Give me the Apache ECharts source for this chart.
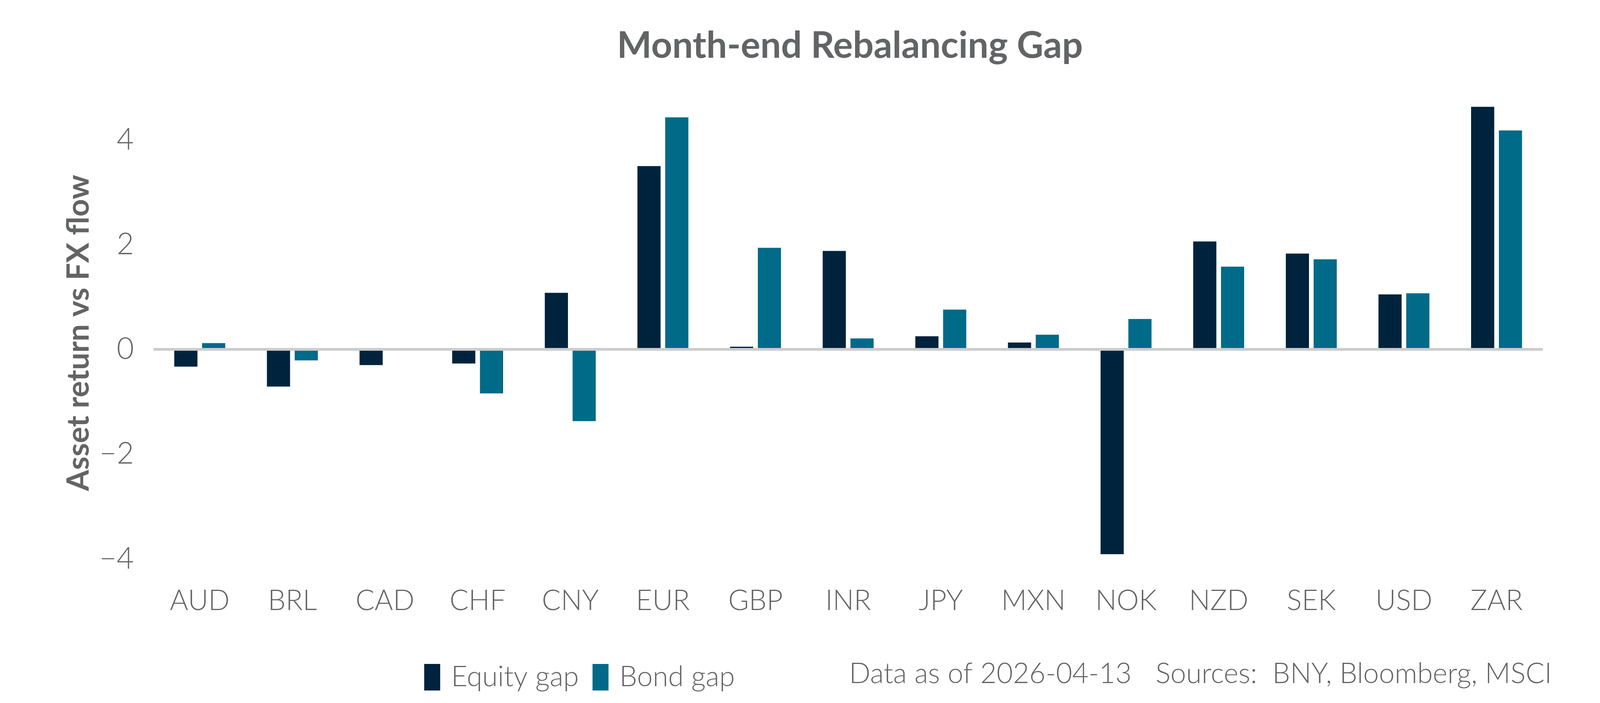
<!DOCTYPE html>
<html>
<head>
<meta charset="utf-8">
<script src="https://cdn.jsdelivr.net/npm/echarts@6/dist/echarts.min.js"></script>
<style>
  html, body { margin: 0; padding: 0; background: #fff; overflow: hidden; }
  #main { width: 100vw; height: 100vh; }
</style>
</head>
<body>
<div id="main"></div>
<script>
var currencies = ['AUD', 'BRL', 'CAD', 'CHF', 'CNY', 'EUR', 'GBP', 'INR', 'JPY', 'MXN', 'NOK', 'NZD', 'SEK', 'USD', 'ZAR'];
var equityGap = [-0.33, -0.71, -0.30, -0.27, 1.08, 3.50, 0.05, 1.88, 0.25, 0.13, -3.91, 2.06, 1.83, 1.05, 4.63];
var bondGap = [0.12, -0.21, null, -0.84, -1.37, 4.43, 1.94, 0.21, 0.76, 0.28, 0.58, 1.58, 1.72, 1.07, 4.18];
var seriesNames = ['Equity gap', 'Bond gap'];

var textGray = '#636466';
var labelFont = 'Lato';

// layout was measured on a 5400 x 1800 picture; scale it to the real window
var sx = window.innerWidth / 5400;
var sy = window.innerHeight / 1800;

var myChart = echarts.init(document.getElementById('main'));

var legendBase = {
    icon: 'rect',
    top: 1693 * sy,
    itemWidth: 54 * sx,
    itemHeight: 68 * sy,
    textStyle: {
        fontFamily: labelFont,
        fontWeight: 300,
        fontSize: 72,
        color: textGray,
        padding: [0, 0, 0, 37 * sx - 5]
    }
};

myChart.setOption({
    animation: false,
    backgroundColor: '#ffffff',
    title: {
        text: 'Month-end Rebalancing Gap',
        left: '53%',
        textAlign: 'center',
        top: 66 * sy,
        textStyle: {
            fontFamily: labelFont,
            fontSize: 94,
            fontWeight: 'bold',
            color: textGray
        }
    },
    grid: {
        left: '9.59%',
        right: '3.57%',
        top: 224 * sy,
        bottom: 369 * sy
    },
    legend: [
        Object.assign({ data: [seriesNames[0]], left: '26.39%' }, legendBase),
        Object.assign({ data: [seriesNames[1]], left: '36.91%' }, legendBase)
    ],
    graphic: [
        {
            type: 'text',
            left: '53.07%',
            top: 1690 * sy,
            style: {
                text: 'Data as of 2026-04-13',
                font: '300 72px Lato',
                fill: textGray
            }
        },
        {
            type: 'text',
            left: '72.22%',
            top: 1690 * sy,
            style: {
                text: 'Sources:  BNY, Bloomberg, MSCI',
                font: '300 72px Lato',
                fill: textGray
            }
        }
    ],
    xAxis: {
        type: 'category',
        data: currencies,
        axisLine: { show: false, onZero: false },
        axisTick: { show: false },
        axisLabel: {
            margin: 72 * sy,
            fontFamily: labelFont,
            fontWeight: 300,
            fontSize: 72,
            color: textGray
        }
    },
    yAxis: {
        type: 'value',
        min: -4,
        max: 5,
        interval: 2,
        name: 'Asset return vs FX flow',
        nameLocation: 'middle',
        nameGap: 152,
        nameTextStyle: {
            fontFamily: labelFont,
            fontSize: 78,
            fontWeight: 'bold',
            color: textGray,
            padding: [0, 50, 0, 0]
        },
        axisLine: { show: false },
        axisTick: { show: false },
        splitLine: { show: false },
        axisLabel: {
            margin: 66 * sx,
            showMaxLabel: false,
            fontFamily: labelFont,
            fontWeight: 300,
            fontSize: 76,
            color: textGray,
            formatter: function (v) {
                return String(v).replace('-', '\u2212');
            }
        }
    },
    series: [
        {
            name: seriesNames[0],
            type: 'bar',
            data: equityGap,
            barWidth: '25%',
            barGap: '20%',
            itemStyle: { color: '#00233d' }
        },
        {
            name: seriesNames[1],
            type: 'bar',
            data: bondGap,
            barWidth: '25%',
            barGap: '20%',
            itemStyle: { color: '#006a89' },
            markLine: {
                silent: true,
                symbol: 'none',
                label: { show: false },
                lineStyle: { color: '#cccccc', width: 7, type: 'solid' },
                data: [{ yAxis: 0 }]
            }
        }
    ]
});
</script>
</body>
</html>
